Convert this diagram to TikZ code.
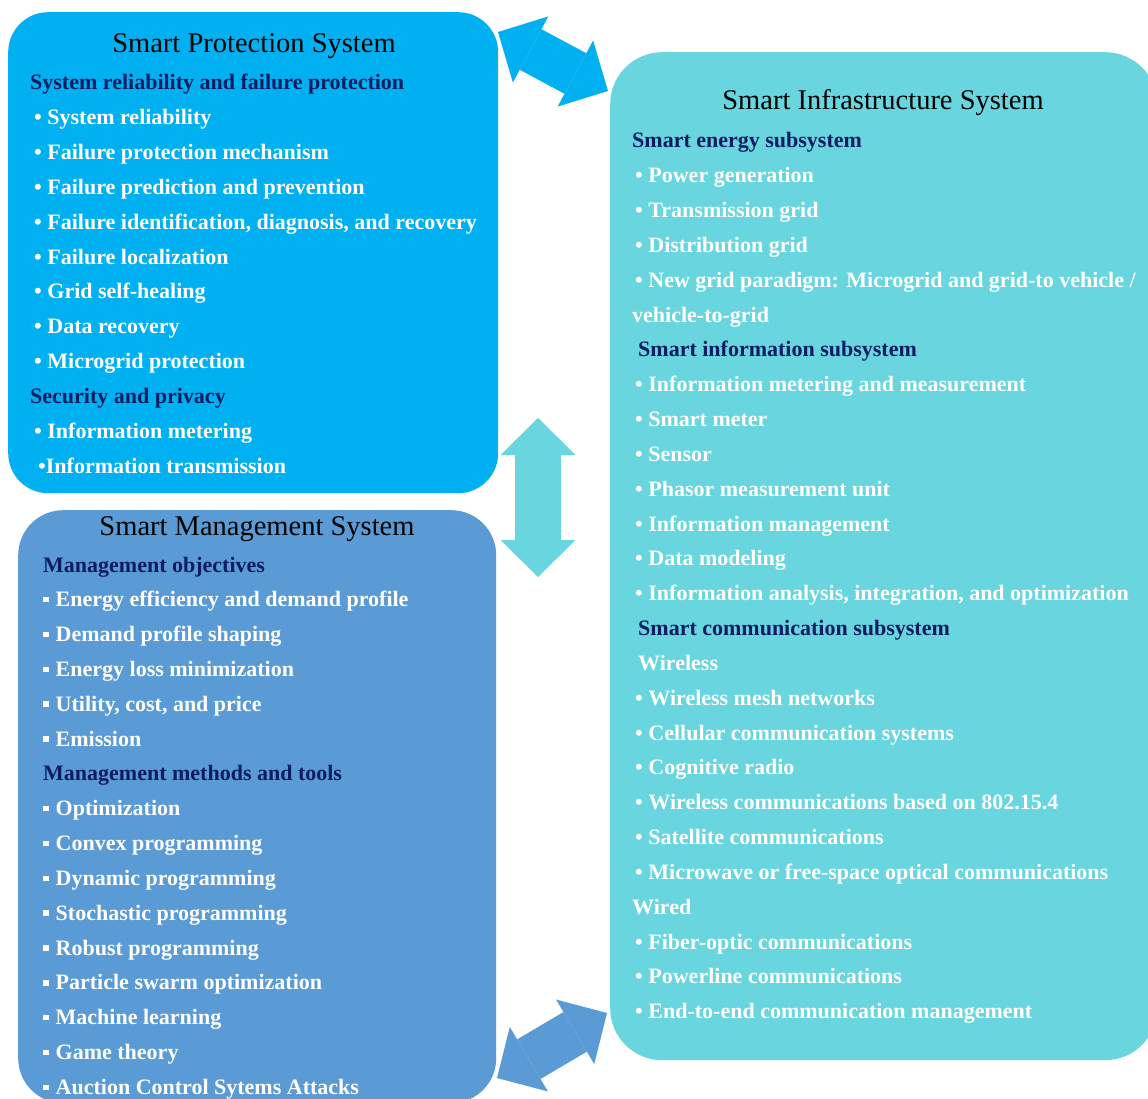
\documentclass[tikz,border=0pt]{standalone}
\usepackage{fontspec}
\setmainfont{Liberation Serif}
\usepackage{xcolor}
\usetikzlibrary{arrows.meta}

\definecolor{protblue}{RGB}{0,176,240}
\definecolor{infracyan}{RGB}{104,213,223}
\definecolor{mgmtblue}{RGB}{91,155,213}
\definecolor{subnavy}{RGB}{12,28,98}

\newcommand{\sqitem}{\rule[0.2em]{5.5pt}{5.5pt}\hspace{7pt}}

\tikzset{
  sysbox/.style={anchor=north west, inner sep=0pt},
  systitle/.style={anchor=base, inner sep=0pt, text=black, font=\fontsize{28.5}{30}\selectfont},
  subhead/.style={anchor=base west, inner sep=0pt, text=subnavy, font=\fontsize{22}{24}\selectfont\bfseries},
  item/.style={anchor=base west, inner sep=0pt, text=white, font=\fontsize{22}{24}\selectfont\bfseries},
  linkarrow/.style={line width=46pt,
    {Triangle[length=37pt,width=75pt,line width=0pt]}-{Triangle[length=37pt,width=75pt,line width=0pt]}},
}

\begin{document}
\begin{tikzpicture}[x=1pt,y=-1pt]
\useasboundingbox (0,0) rectangle (1148,1099);
\fill[white] (0,0) rectangle (1148,1099);
\clip (0,0) rectangle (1148,1099);

\node[sysbox, fill=protblue, rounded corners=40pt, minimum width=490pt, minimum height=481pt] (protection) at (8,12) {};
\node[sysbox, fill=infracyan, rounded corners=52pt, minimum width=547pt, minimum height=1008pt] (infrastructure) at (610,52) {};
\node[sysbox, fill=mgmtblue, rounded corners=45pt, minimum width=478pt, minimum height=593pt] (management) at (18,510) {};

\node[systitle] (protectionTitle) at (254,53) {Smart Protection System};
\node[systitle] (infrastructureTitle) at (883,110) {Smart Infrastructure System};
\node[systitle] (managementTitle) at (257,535) {Smart Management System};

\foreach \st/\xx/\t [count=\k from 0] in {
  subhead/30/System reliability and failure protection,
  item/34/\textbullet\ System reliability,
  item/34/\textbullet\ Failure protection mechanism,
  item/34/\textbullet\ Failure prediction and prevention,
  item/34/{\textbullet\ Failure identification, diagnosis, and recovery},
  item/34/\textbullet\ Failure localization,
  item/34/\textbullet\ Grid self-healing,
  item/34/\textbullet\ Data recovery,
  item/34/\textbullet\ Microgrid protection,
  subhead/30/Security and privacy,
  item/34/\textbullet\ Information metering,
  item/38/\textbullet Information transmission}
  \node[\st] (protection\k) at ({\xx},{90+34.83*\k}) {\t};

\foreach \st/\xx/\t [count=\k from 0] in {
  subhead/632/Smart energy subsystem,
  item/635/\textbullet\ Power generation,
  item/635/\textbullet\ Transmission grid,
  item/635/\textbullet\ Distribution grid,
  item/635/{\textbullet\ New grid paradigm: Microgrid and grid-to vehicle /},
  item/632/vehicle-to-grid,
  subhead/638/Smart information subsystem,
  item/635/\textbullet\ Information metering and measurement,
  item/635/\textbullet\ Smart meter,
  item/635/\textbullet\ Sensor,
  item/635/\textbullet\ Phasor measurement unit,
  item/635/\textbullet\ Information management,
  item/635/\textbullet\ Data modeling,
  item/635/{\textbullet\ Information analysis, integration, and optimization},
  subhead/638/Smart communication subsystem,
  item/638/Wireless,
  item/635/\textbullet\ Wireless mesh networks,
  item/635/\textbullet\ Cellular communication systems,
  item/635/\textbullet\ Cognitive radio,
  item/635/\textbullet\ Wireless communications based on 802.15.4,
  item/635/\textbullet\ Satellite communications,
  item/635/\textbullet\ Microwave or free-space optical communications,
  item/632/Wired,
  item/635/\textbullet\ Fiber-optic communications,
  item/635/\textbullet\ Powerline communications,
  item/635/\textbullet\ End-to-end communication management}
  \node[\st] (infrastructure\k) at ({\xx},{148+34.83*\k}) {\t};

\foreach \st/\xx/\t [count=\k from 0] in {
  subhead/43/Management objectives,
  item/43/\sqitem Energy efficiency and demand profile,
  item/43/\sqitem Demand profile shaping,
  item/43/\sqitem Energy loss minimization,
  item/43/{\sqitem Utility, cost, and price},
  item/43/\sqitem Emission,
  subhead/43/Management methods and tools,
  item/43/\sqitem Optimization,
  item/43/\sqitem Convex programming,
  item/43/\sqitem Dynamic programming,
  item/43/\sqitem Stochastic programming,
  item/43/\sqitem Robust programming,
  item/43/\sqitem Particle swarm optimization,
  item/43/\sqitem Machine learning,
  item/43/\sqitem Game theory,
  item/43/\sqitem Auction Control Sytems Attacks}
  \node[\st] (management\k) at ({\xx},{572+34.83*\k}) {\t};

\coordinate (protectionLink) at (498,32);
\coordinate (infrastructureLink) at (608,91);
\coordinate (protectionDown) at (538,418);
\coordinate (managementUp) at (538,577);
\coordinate (managementLink) at (497,1078);
\coordinate (infrastructureLow) at (607,1013);

\draw[linkarrow, protblue] (protectionLink) -- (infrastructureLink);
\draw[linkarrow, infracyan] (protectionDown) -- (managementUp);
\draw[linkarrow, mgmtblue] (managementLink) -- (infrastructureLow);
\end{tikzpicture}
\end{document}
